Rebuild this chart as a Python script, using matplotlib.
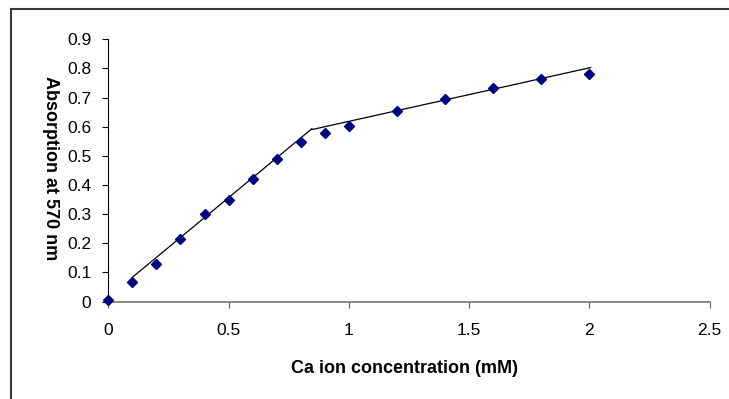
import matplotlib.pyplot as plt
from matplotlib.patches import Rectangle

# measured points
conc = [0, 0.1, 0.2, 0.3, 0.4, 0.5, 0.6, 0.7, 0.8, 0.9, 1.0, 1.2, 1.4, 1.6, 1.8, 2.0]
absorb = [0.005, 0.067, 0.13, 0.213, 0.30, 0.347, 0.42, 0.49, 0.546, 0.577, 0.603,
          0.655, 0.695, 0.733, 0.763, 0.78]

# two linear trend lines (end points)
fit1_x = [0.1, 0.846]
fit1_y = [0.083, 0.593]
fit2_x = [0.846, 2.005]
fit2_y = [0.590, 0.803]

xticks = [0, 0.5, 1, 1.5, 2, 2.5]
xticklabels = ['0', '0.5', '1', '1.5', '2', '2.5']
yticks = [0, 0.1, 0.2, 0.3, 0.4, 0.5, 0.6, 0.7, 0.8, 0.9]
yticklabels = ['0', '0.1', '0.2', '0.3', '0.4', '0.5', '0.6', '0.7', '0.8', '0.9']

plt.rcParams['font.family'] = ['Liberation Sans', 'DejaVu Sans']

W, H = 729, 399
fig = plt.figure(figsize=(W / 100, H / 100), dpi=100)

# chart border (runs off right and bottom edge)
fig.patches.append(Rectangle((11 / W, -0.1), 1.2, 1 - 9 / H + 0.1, transform=fig.transFigure,
                             fill=False, edgecolor='#3a3a3a', linewidth=1.5))

left, right, top, bottom = 108.3, 709.7, 39.3, 301.5
ax = fig.add_axes([left / W, 1 - bottom / H, (right - left) / W, (bottom - top) / H])
ax.set_facecolor('none')

ax.plot(fit1_x, fit1_y, color='black', linewidth=0.9, zorder=2)
ax.plot(fit2_x, fit2_y, color='black', linewidth=0.9, zorder=2)
ax.plot(conc, absorb, linestyle='none', marker='D', markersize=5.5, color='#000080',
        markeredgecolor='#000080', clip_on=False, zorder=3)

ax.set_xlim(0, 2.5)
ax.set_ylim(0, 0.9)
ax.set_xticks(xticks)
ax.set_xticklabels(xticklabels)
ax.set_yticks(yticks)
ax.set_yticklabels(yticklabels)

for s in ['top', 'right']:
    ax.spines[s].set_visible(False)
ax.spines['left'].set_color('black')
ax.spines['bottom'].set_color('#808080')
ax.spines['left'].set_linewidth(0.8)
ax.spines['bottom'].set_linewidth(1.3)

ax.tick_params(axis='y', direction='out', length=4.3, width=0.8, labelsize=12.5, pad=8)
ax.tick_params(axis='x', direction='out', length=4.3, width=0.8, color='#606060',
               labelsize=12.5, pad=11)

ax.set_xlabel('Ca ion concentration (mM)', fontsize=13, fontweight='bold')
ax.set_ylabel('Absorption at 570 nm', fontsize=13, fontweight='bold', rotation=-90,
              va='center', ha='center')
ax.xaxis.set_label_coords(0.4917, -0.223)
ax.yaxis.set_label_coords(-0.0953, 0.509)

fig.savefig('out.png', dpi=100)
